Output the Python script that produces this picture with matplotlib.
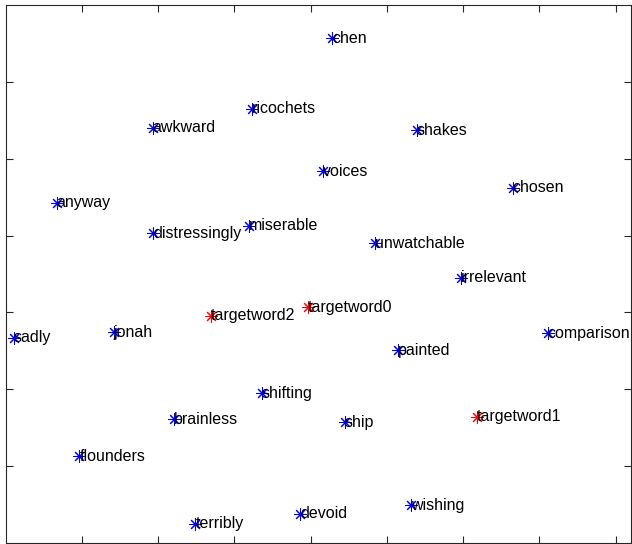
import matplotlib
matplotlib.use("Agg")
import matplotlib.pyplot as plt

plt.rcParams["font.family"] = ["Liberation Sans", "DejaVu Sans"]

# word embedding 2-D projection (axis units: one tick spacing = 1)
words = ["chen", "ricochets", "awkward", "shakes", "voices", "chosen",
         "anyway", "distressingly", "miserable", "unwatchable", "irrelevant",
         "targetword0", "targetword2", "jonah", "sadly", "comparison",
         "painted", "shifting", "brainless", "ship", "targetword1",
         "flounders", "wishing", "devoid", "terribly"]
xs = [4.28, 3.23, 1.93, 5.39, 4.16, 6.65,
      0.67, 1.94, 3.19, 4.84, 5.97,
      3.96, 2.69, 1.42, 0.11, 7.11,
      5.14, 3.36, 2.21, 4.45, 6.18,
      0.97, 5.32, 3.86, 2.49]
ys = [6.57, 5.65, 5.40, 5.37, 4.84, 4.62,
      4.43, 4.03, 4.13, 3.90, 3.45,
      3.07, 2.96, 2.74, 2.67, 2.73,
      2.51, 1.95, 1.61, 1.57, 1.64,
      1.13, 0.49, 0.38, 0.25]
is_target = [w.startswith("targetword") for w in words]

fig = plt.figure(figsize=(6.32, 5.44), dpi=100)
ax = fig.add_axes([5.5 / 632, 1 / 544, 625.5 / 632, 538 / 544])

star = (8, 2, 0)
for x, y, w, t in zip(xs, ys, words, is_target):
    c = "#ff0000" if t else "#0000ff"
    ax.plot(x, y, linestyle="none", marker=star, markersize=9,
            markeredgewidth=0.75, color=c, zorder=3)
    ax.text(x, y, w, fontsize=11.5, color="black",
            ha="left", va="center", zorder=4)

ax.set_xlim(0, 8.20)
ax.set_ylim(0, 7.0)
ax.set_xticks(range(1, 9))
ax.set_yticks(range(1, 7))
ax.tick_params(direction="in", length=5, width=0.8, color="#262626",
               top=True, right=True, labelbottom=False, labelleft=False)
for s in ax.spines.values():
    s.set_color("#262626")
    s.set_linewidth(0.8)

fig.savefig("out.png", dpi=100)
